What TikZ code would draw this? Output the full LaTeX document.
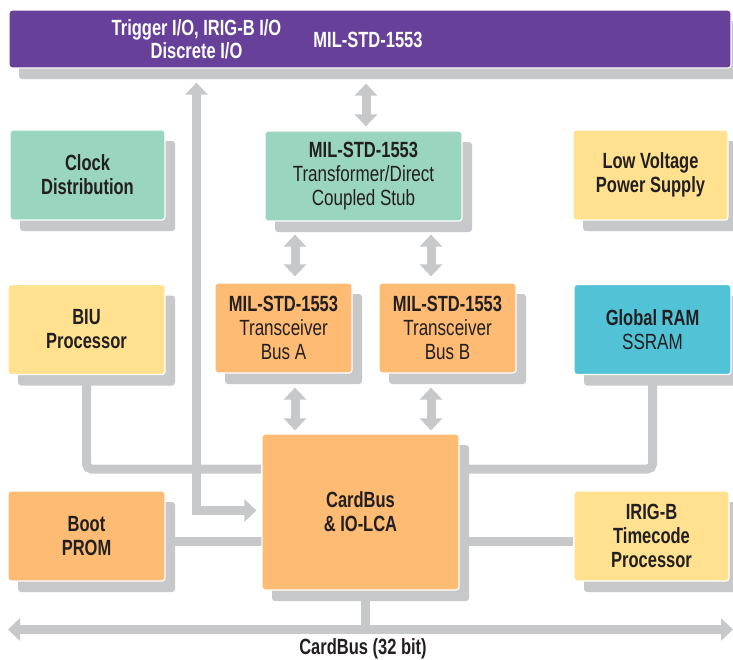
\documentclass[tikz,border=0pt]{standalone}
\usepackage{fontspec}
\setmainfont{Liberation Sans}[FakeStretch=0.775,BoldFeatures={FakeStretch=0.75}]
\usetikzlibrary{arrows.meta,shadows,backgrounds}
\definecolor{barpurple}{RGB}{102,64,153}
\definecolor{mintgreen}{RGB}{154,213,191}
\definecolor{paleyellow}{RGB}{255,225,143}
\definecolor{softorange}{RGB}{253,187,116}
\definecolor{skycyan}{RGB}{82,195,215}
\definecolor{linkgray}{RGB}{199,200,202}
\definecolor{ink}{RGB}{35,31,32}
\begin{document}
\begin{tikzpicture}
  [x=1pt,y=-1pt,
   every node/.style={align=center,inner sep=0pt,text=ink,font=\fontsize{22}{24}\selectfont\bfseries},
   block/.style={draw=white,line width=1.2pt,rounded corners=3pt,minimum width=155pt,minimum height=90pt,
     drop shadow={shadow xshift=10pt,shadow yshift=-11pt,fill=linkgray,opacity=1}},
   bus/.style={draw=linkgray,line width=9pt},
   link/.style={bus,{Triangle[width=22pt,length=12pt]}-{Triangle[width=22pt,length=12pt]}}]
  \useasboundingbox (0,0) rectangle (733,659);
  % top bar
  \node[block,fill=barpurple,minimum width=722pt,minimum height=58pt] (bar) at (370,39) {};
  \node[text=white,font=\fontsize{22}{23}\selectfont\bfseries] (trig) at (196.5,39) {Trigger I/O, IRIG-B I/O\\Discrete I/O};
  \node[text=white] (milbus) at (368,40) {MIL-STD-1553};
  % blocks
  \node[block,fill=mintgreen] (clock) at (87.5,175) {Clock\\Distribution};
  \node[block,fill=mintgreen,minimum width=197pt] (xfmr) at (363.5,176) {MIL-STD-1553\\\mdseries Transformer/Direct\\\mdseries Coupled Stub};
  \node[block,fill=paleyellow] (lvps) at (650.5,175) {Low Voltage\\Power Supply};
  \node[block,fill=paleyellow,minimum width=157pt] (biu) at (86.5,329.5) {BIU\\Processor};
  \node[block,fill=softorange,minimum width=137pt] (txa) at (283.5,328) {MIL-STD-1553\\\mdseries Transceiver\\\mdseries Bus A};
  \node[block,fill=softorange,minimum width=137pt] (txb) at (447.5,328) {MIL-STD-1553\\\mdseries Transceiver\\\mdseries Bus B};
  \node[block,fill=skycyan,minimum width=157pt] (ram) at (652.5,329.5) {Global RAM\\\mdseries SSRAM};
  \node[block,fill=softorange,minimum width=157pt] (boot) at (86.5,536) {Boot\\PROM};
  \node[block,fill=softorange,minimum width=197pt,minimum height=156pt] (card) at (360.5,512) {CardBus\\\& IO-LCA};
  \node[block,fill=paleyellow] (irig) at (651.5,536) {IRIG-B\\Timecode\\Processor};
  % cardbus
  \coordinate (busL) at (8,629.5);
  \coordinate (busR) at (733,629.5);
  \node (buslbl) at (363,649) {CardBus (32 bit)};
  \begin{scope}[on background layer]
    \draw[link] ([yshift=-14pt]bar.south -| trig) |- ([xshift=-5pt,yshift=1.5pt]card.west);
    \draw[link] ([xshift=2.5pt,yshift=-15pt]bar.south -| xfmr) -- ([xshift=2.5pt,yshift=4pt]xfmr.north);
    \foreach \tx/\dx in {txa/11.5,txb/-16.5} {
      \draw[link] ([xshift=\dx pt,yshift=-13pt]\tx.north |- xfmr.south) -- ([xshift=\dx pt,yshift=6pt]\tx.north);
      \draw[link] ([xshift=\dx pt,yshift=-14pt]\tx.south) -- ([xshift=\dx pt,yshift=3pt]\tx.south |- card.north);
    }
    \draw[bus,rounded corners=5pt] (biu.south) |- ([yshift=43pt]card.west);
    \draw[bus,rounded corners=5pt] (ram.south) |- ([yshift=43pt]card.east);
    \draw[bus] ([yshift=-5.5pt]boot.east) -- ([yshift=-5.5pt]boot.east -| card);
    \draw[bus] ([yshift=-5.5pt]irig.west) -- ([yshift=-5.5pt]irig.west -| card);
    \draw[link] (busL) -- (busR);
    \draw[bus] ([xshift=5pt]card.south) -- ([xshift=5pt]card.south |- busL);
  \end{scope}
\end{tikzpicture}
\end{document}
